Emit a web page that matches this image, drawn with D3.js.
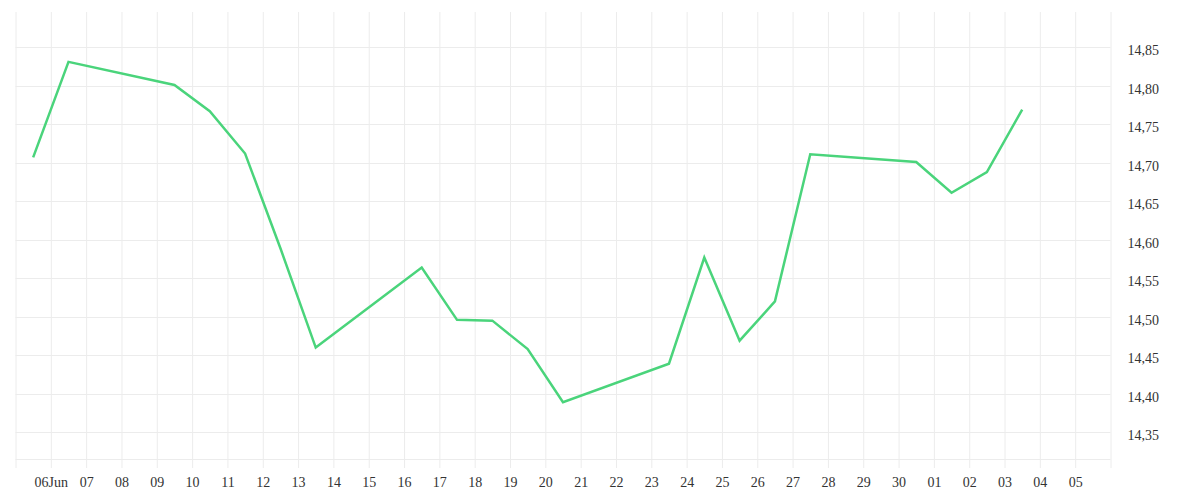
<!DOCTYPE html>
<html>
<head>
<meta charset="utf-8">
<script src="https://cdn.jsdelivr.net/npm/d3@7"></script>
<style>
  html, body { margin: 0; padding: 0; background: #fff; }
  svg { display: block; }
  text { font-family: "Liberation Serif", "Times New Roman", serif; font-size: 14px; fill: #333; }
</style>
</head>
<body>
<svg id="chart" width="1200" height="500"></svg>
<script>
// ---- data ----
const dates = [
  "2025-06-05T12:00", "2025-06-06T12:00", "2025-06-09T12:00", "2025-06-10T12:00",
  "2025-06-11T12:00", "2025-06-12T12:00", "2025-06-13T12:00", "2025-06-16T12:00",
  "2025-06-17T12:00", "2025-06-18T12:00", "2025-06-19T12:00", "2025-06-20T12:00",
  "2025-06-23T12:00", "2025-06-24T12:00", "2025-06-25T12:00", "2025-06-26T12:00",
  "2025-06-27T12:00", "2025-06-30T12:00", "2025-07-01T12:00", "2025-07-02T12:00",
  "2025-07-03T12:00"
];
const values = [
  14.707, 14.831, 14.801, 14.767, 14.712, 14.589, 14.460, 14.564,
  14.496, 14.495, 14.458, 14.389, 14.439, 14.577, 14.469, 14.520,
  14.711, 14.701, 14.661, 14.688, 14.769
];
const xTickDates = [
  "2025-06-05", "2025-06-06", "2025-06-07", "2025-06-08", "2025-06-09", "2025-06-10",
  "2025-06-11", "2025-06-12", "2025-06-13", "2025-06-14", "2025-06-15", "2025-06-16",
  "2025-06-17", "2025-06-18", "2025-06-19", "2025-06-20", "2025-06-21", "2025-06-22",
  "2025-06-23", "2025-06-24", "2025-06-25", "2025-06-26", "2025-06-27", "2025-06-28",
  "2025-06-29", "2025-06-30", "2025-07-01", "2025-07-02", "2025-07-03", "2025-07-04",
  "2025-07-05", "2025-07-06"
];
const xTickLabels = [
  "", "06Jun", "07", "08", "09", "10", "11", "12", "13", "14", "15", "16",
  "17", "18", "19", "20", "21", "22", "23", "24", "25", "26", "27", "28",
  "29", "30", "01", "02", "03", "04", "05", ""
];
const yTickValues = [14.35, 14.40, 14.45, 14.50, 14.55, 14.60, 14.65, 14.70, 14.75, 14.80, 14.85];
const yTickLabels = ["14,35", "14,40", "14,45", "14,50", "14,55", "14,60", "14,65", "14,70", "14,75", "14,80", "14,85"];
const yDomain = [14.3153, 14.8958];

// ---- layout ----
const mLeft = 15.5, mRight = 1110.5, mTop = 12, mBottom = 459;
const parse = d3.isoParse;
const tickDates = xTickDates.map(d => parse(d + "T00:00"));

const x = d3.scaleTime()
  .domain([tickDates[0], tickDates[tickDates.length - 1]])
  .range([mLeft, mRight]);
const y = d3.scaleLinear().domain(yDomain).range([mBottom, mTop]);

const svg = d3.select("#chart");
const gridColor = "#ececec";

// horizontal grid lines
svg.append("g")
  .selectAll("line")
  .data(yTickValues)
  .join("line")
  .attr("x1", mLeft).attr("x2", mRight)
  .attr("y1", d => Math.round(y(d)) + 0.5).attr("y2", d => Math.round(y(d)) + 0.5)
  .attr("stroke", gridColor).attr("stroke-width", 1);

// bottom baseline
svg.append("line")
  .attr("x1", mLeft).attr("x2", mRight)
  .attr("y1", mBottom + 0.5).attr("y2", mBottom + 0.5)
  .attr("stroke", gridColor).attr("stroke-width", 1);

// vertical grid lines + ticks via axis
const xAxis = d3.axisBottom(x)
  .tickValues(tickDates)
  .tickSize(9)
  .tickFormat((d, i) => xTickLabels[i]);
const gx = svg.append("g")
  .attr("transform", `translate(0,${mBottom})`)
  .call(xAxis);
gx.select(".domain").remove();
gx.selectAll(".tick line").attr("stroke", gridColor).attr("stroke-width", 1)
  .attr("y1", -(mBottom - mTop)).attr("y2", 9);
gx.selectAll(".tick text").attr("y", 24).attr("dy", "0.32em")
  .attr("fill", "#333").style("font-size", "14px").style("font-family", "Liberation Serif, serif");

// y axis labels on the right
const gy = svg.append("g")
  .attr("transform", `translate(${mRight},0)`)
  .call(d3.axisRight(y).tickValues(yTickValues).tickSize(0).tickFormat((d, i) => yTickLabels[i]));
gy.select(".domain").remove();
gy.selectAll(".tick text").attr("x", 17).attr("dy", "0.55em").attr("text-anchor", "start")
  .attr("fill", "#333").style("font-size", "14px").style("font-family", "Liberation Serif, serif");

// data line
const pts = dates.map((d, i) => ({ date: parse(d), value: values[i] }));
svg.append("path")
  .datum(pts)
  .attr("fill", "none")
  .attr("stroke", "#4ad47b")
  .attr("stroke-width", 2.5)
  .attr("stroke-linejoin", "miter")
  .attr("d", d3.line().x(d => x(d.date)).y(d => y(d.value)));
</script>
</body>
</html>
